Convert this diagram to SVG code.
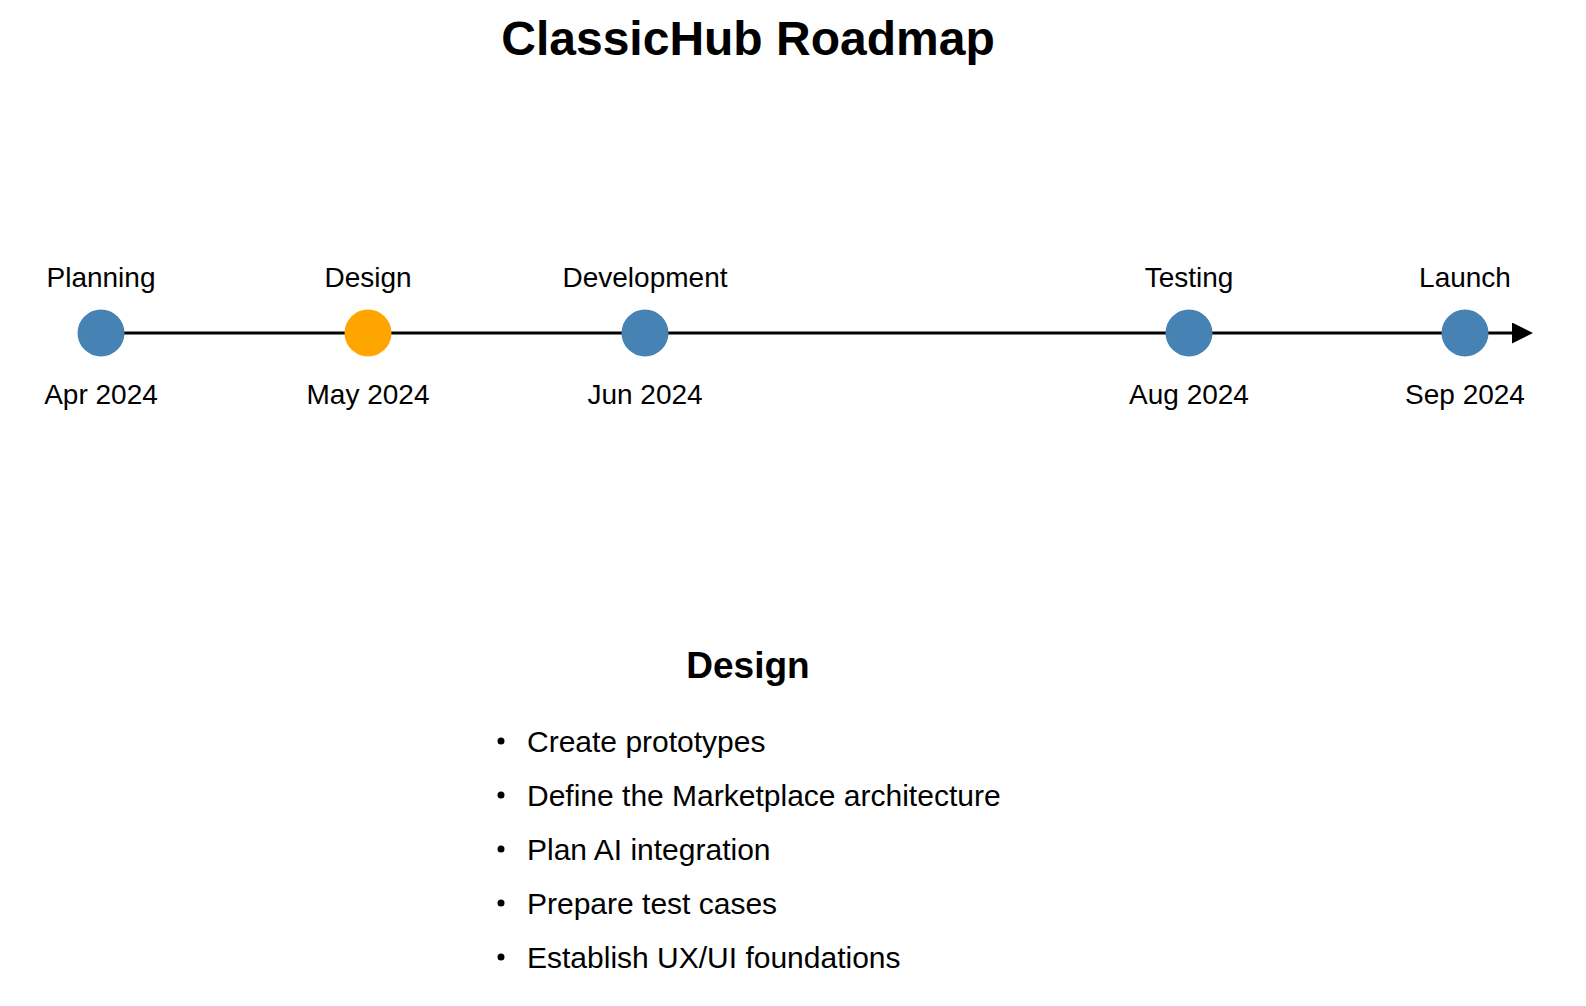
<svg xmlns="http://www.w3.org/2000/svg" width="1586" height="1006" viewBox="0 0 1586 1006">
<style>
text{font-family:"Liberation Sans",Arial,sans-serif;fill:#000}
.title{font-size:48px;font-weight:bold;text-anchor:middle}
.lbl{font-size:28px;text-anchor:middle}
.head{font-size:37px;font-weight:bold;text-anchor:middle}
.item{font-size:30px}
.ms{fill:#4682b4}
.cur{fill:#ffa500}
</style>
<defs>
<marker id="arr" viewBox="0 0 10 10" refX="0" refY="5" markerWidth="7" markerHeight="7" markerUnits="strokeWidth" orient="auto">
<path d="M0,0 L10,5 L0,10 Z" fill="#000"/>
</marker>
</defs>
<rect width="1586" height="1006" fill="#fff"/>
<text class="title" x="748" y="55">ClassicHub Roadmap</text>
<g id="connectors">
<line x1="101" y1="333" x2="1512" y2="333" stroke="#000" stroke-width="3" marker-end="url(#arr)"/>
</g>
<g id="planning">
<circle class="ms" cx="101" cy="333" r="23.5"/>
<text class="lbl" x="101" y="287">Planning</text>
<text class="lbl" x="101" y="404">Apr 2024</text>
</g>
<g id="design">
<circle class="cur" cx="368" cy="333" r="23.5"/>
<text class="lbl" x="368" y="287">Design</text>
<text class="lbl" x="368" y="404">May 2024</text>
</g>
<g id="development">
<circle class="ms" cx="645" cy="333" r="23.5"/>
<text class="lbl" x="645" y="287">Development</text>
<text class="lbl" x="645" y="404">Jun 2024</text>
</g>
<g id="testing">
<circle class="ms" cx="1189" cy="333" r="23.5"/>
<text class="lbl" x="1189" y="287">Testing</text>
<text class="lbl" x="1189" y="404">Aug 2024</text>
</g>
<g id="launch">
<circle class="ms" cx="1465" cy="333" r="23.5"/>
<text class="lbl" x="1465" y="287">Launch</text>
<text class="lbl" x="1465" y="404">Sep 2024</text>
</g>
<g id="details">
<text class="head" x="748" y="677.5">Design</text>
<g fill="#000">
<circle cx="501" cy="741" r="3.5"/>
<circle cx="501" cy="795" r="3.5"/>
<circle cx="501" cy="849" r="3.5"/>
<circle cx="501" cy="903" r="3.5"/>
<circle cx="501" cy="957" r="3.5"/>
</g>
<text class="item" x="527" y="751.5">Create prototypes</text>
<text class="item" x="527" y="805.5">Define the Marketplace architecture</text>
<text class="item" x="527" y="859.5">Plan AI integration</text>
<text class="item" x="527" y="913.5">Prepare test cases</text>
<text class="item" x="527" y="967.5">Establish UX/UI foundations</text>
</g>
</svg>
